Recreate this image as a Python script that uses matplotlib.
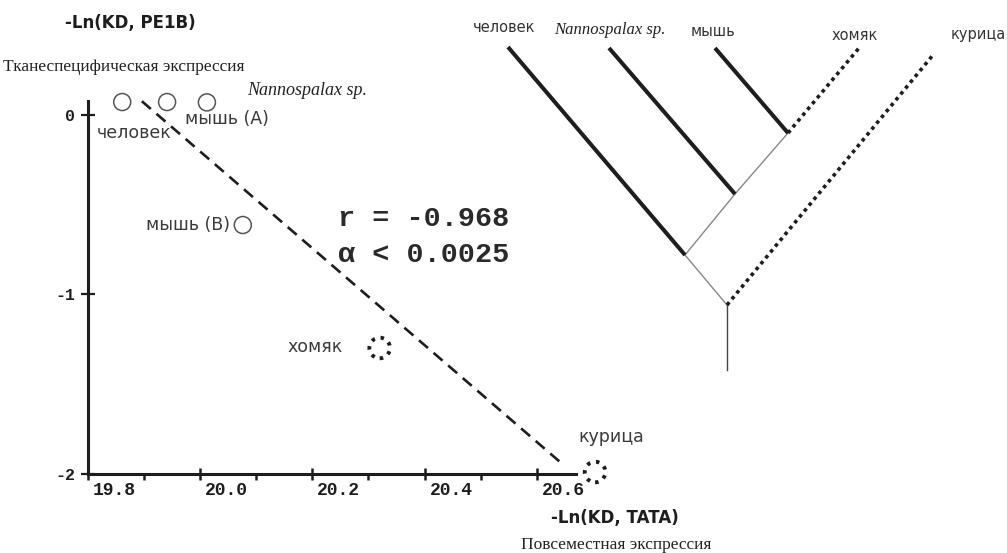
import numpy as np
import matplotlib.pyplot as plt
import matplotlib.transforms as mtransforms

# Species measurements: -Ln(KD) for the TATA box and the PE1B element
species = ['человек', 'Nannospalax sp.', 'мышь (A)', 'мышь (B)', 'хомяк', 'курица']
ln_kd_tata = [19.861, 19.941, 20.012, 20.076, 20.320, 20.704]
ln_kd_pe1b = [0.072, 0.072, 0.070, -0.613, -1.298, -1.989]
dotted_marker = [False, False, False, False, True, True]
stats_lines = ['r = -0.968', 'α < 0.0025']

x_major = [19.8, 20.0, 20.2, 20.4, 20.6]
x_major_labels = ['19.8', '20.0', '20.2', '20.4', '20.6']
x_minor = [19.9, 20.1, 20.3, 20.5]
y_ticks = [0, -1, -2]
y_tick_labels = ['0', '-1', '-2']
fit_span = [19.896, 20.641]

# Cladogram: node positions (root at origin, y up) and branches
tree_nodes = {
    'root': (0, 0), 'stem': (0, -65),
    'n1': (-42, 50), 'n2': (8, 111), 'n3': (61, 172),
    'человек': (-219, 258), 'Nannospalax sp.': (-118, 257), 'мышь': (-12, 257),
    'хомяк': (132, 257), 'курица': (206, 250),
}
thick_branches = [('n1', 'человек'), ('n2', 'Nannospalax sp.'), ('n3', 'мышь')]
thin_branches = [('root', 'n1'), ('n1', 'n2'), ('n2', 'n3')]
dotted_branches = [('n3', 'хомяк'), ('root', 'курица')]
tree_leaves = ['человек', 'Nannospalax sp.', 'мышь', 'хомяк', 'курица']
tree_label_x = [-223, -117, -14, 128, 251]
tree_label_y = [277, 275, 273, 270, 270]

W, H = 1007, 553
fig = plt.figure(figsize=(W / 100, H / 100), dpi=100)
ink = '#1e1e1e'
sans = 'DejaVu Sans'
serif = 'Liberation Serif'
mono = 'Liberation Mono'

ax = fig.add_axes([88 / W, 1 - 474 / H, 488 / W, 372.5 / H])
ax.set_xlim(19.8, 20.67)
ax.set_ylim(-2, 0.075)
ax.patch.set_alpha(0)
for s in ['top', 'right']:
    ax.spines[s].set_visible(False)
for s in ['left', 'bottom']:
    ax.spines[s].set_linewidth(2.2)
    ax.spines[s].set_color(ink)

ax.set_xticks(x_major)
ax.set_xticklabels(x_major_labels, fontfamily=mono, fontweight='bold', fontsize=13, color=ink)
ax.set_xticks(x_minor, minor=True)
ax.set_yticks(y_ticks)
ax.set_yticklabels(y_tick_labels, fontfamily=mono, fontweight='bold', fontsize=12, color=ink)
ax.tick_params(axis='x', which='major', direction='inout', length=9, width=1.8, pad=1, color=ink)
ax.tick_params(axis='x', which='minor', direction='out', length=4, width=1.8, color=ink)
ax.tick_params(axis='y', direction='inout', length=10, width=1.6, pad=4, color=ink)

# labels sit to the right of their tick
shift = mtransforms.ScaledTranslation(5 / 100, 0, fig.dpi_scale_trans)
for lab in ax.get_xticklabels():
    lab.set_horizontalalignment('left')
    lab.set_transform(lab.get_transform() + shift)

# regression line
coef = np.polyfit(ln_kd_tata, ln_kd_pe1b, 1)
ax.plot(fit_span, np.polyval(coef, fit_span), color=ink, lw=1.9, dashes=(4.5, 2.8),
        clip_on=False, zorder=2)

tata = np.array(ln_kd_tata)
pe1b = np.array(ln_kd_pe1b)
dm = np.array(dotted_marker)
ax.scatter(tata[~dm], pe1b[~dm], s=150, facecolors='none', edgecolors='#555555',
           linewidths=1.1, clip_on=False, zorder=3)
ax.scatter(tata[dm], pe1b[dm], s=220, facecolors='none', edgecolors=ink,
           linewidths=2.8, linestyles=[(0, (0.9, 1.5))], clip_on=False, zorder=3)

label_offsets = [(-25, -31), (80, 12), (-22, -17), (-13, 0), (-37, 1), (-17, 35)]
label_ha = ['left', 'left', 'left', 'right', 'right', 'left']
for name, x, y, off, ha in zip(species, tata, pe1b, label_offsets, label_ha):
    if name.startswith('Nannospalax'):
        kw = dict(fontfamily=serif, fontstyle='italic', fontsize=13, color='#222222')
    else:
        kw = dict(fontfamily=sans, fontsize=12.5, color='#3a3a3a')
    ax.annotate(name, (x, y), xytext=off, textcoords='offset pixels',
                ha=ha, va='center', annotation_clip=False, **kw)

ax.text(20.2456, -0.579, stats_lines[0], fontfamily=mono, fontweight='bold',
        fontsize=20.5, color='#2a2a2a', va='center')
ax.text(20.2456, -0.780, stats_lines[1], fontfamily=mono, fontweight='bold',
        fontsize=20.5, color='#2a2a2a', va='center')

# axis titles
fig.text(130 / W, 1 - 23 / H, '-Ln(KD, PE1B)', fontfamily=sans, fontweight='bold',
         fontsize=12, color=ink, ha='center', va='center')
fig.text(3 / W, 1 - 67 / H, 'Тканеспецифическая экспрессия', fontfamily=serif,
         fontsize=12.5, color='#222222', ha='left', va='center')
fig.text(615 / W, 1 - 518 / H, '-Ln(KD, TATA)', fontfamily=sans, fontweight='bold',
         fontsize=12, color=ink, ha='center', va='center')
fig.text(616 / W, 1 - 545 / H, 'Повсеместная экспрессия', fontfamily=serif,
         fontsize=12.5, color='#222222', ha='center', va='center')

# cladogram
tx = fig.add_axes([460 / W, 1 - 400 / H, 547 / W, 400 / H])
tx.set_xlim(-267, 280)
tx.set_ylim(-95, 305)
tx.axis('off')


def branch(a, b, **kw):
    (x0, y0), (x1, y1) = tree_nodes[a], tree_nodes[b]
    tx.plot([x0, x1], [y0, y1], **kw)


branch('root', 'stem', color='#444444', lw=1.0)
for a, b in thin_branches:
    branch(a, b, color='#888888', lw=1.0)
for a, b in thick_branches:
    branch(a, b, color=ink, lw=2.9, solid_capstyle='butt')
for a, b in dotted_branches:
    branch(a, b, color=ink, lw=2.6, dashes=(1, 1.1), dash_capstyle='butt')

for leaf, lx, ly in zip(tree_leaves, tree_label_x, tree_label_y):
    if leaf.startswith('Nannospalax'):
        kw = dict(fontfamily=serif, fontstyle='italic', fontsize=12, color='#222222')
    else:
        kw = dict(fontfamily=sans, fontsize=10.5, color='#333333')
    tx.text(lx, ly, leaf, ha='center', va='center', **kw)

fig.savefig('out.png', dpi=100, facecolor='white')
